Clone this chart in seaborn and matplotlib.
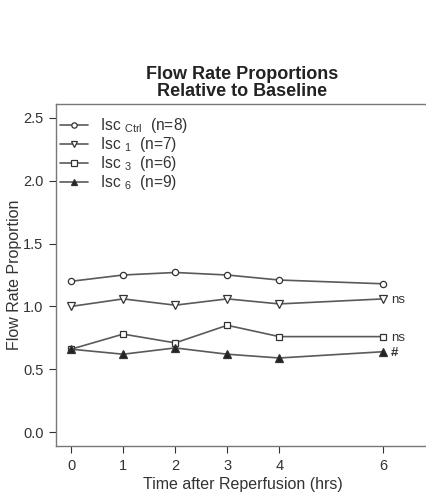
import matplotlib
matplotlib.use("Agg")
import matplotlib.pyplot as plt
import seaborn as sns
import pandas as pd
from matplotlib.lines import Line2D

sns.set_style("ticks")
plt.rcParams['font.family'] = ['Liberation Sans', 'DejaVu Sans']
plt.rcParams['mathtext.fontset'] = 'custom'
plt.rcParams['mathtext.rm'] = 'Liberation Sans'

hours = [0, 1, 2, 3, 4, 6]
isc_ctrl = [1.20, 1.25, 1.27, 1.25, 1.21, 1.18]
isc_1 = [1.00, 1.06, 1.01, 1.06, 1.02, 1.06]
isc_3 = [0.66, 0.78, 0.71, 0.85, 0.76, 0.76]
isc_6 = [0.66, 0.62, 0.67, 0.62, 0.59, 0.64]
series_names = ["Ctrl", "1", "3", "6"]
series_n = [8, 7, 6, 9]
end_labels = ["", "ns", "ns", "#"]
xticks = [0, 1, 2, 3, 4, 6]
yticks = [0.0, 0.5, 1.0, 1.5, 2.0, 2.5]

values = [isc_ctrl, isc_1, isc_3, isc_6]
rows = []
for name, vals in zip(series_names, values):
    for h, v in zip(hours, vals):
        rows.append({"hours": h, "value": v, "series": name})
df = pd.DataFrame(rows)

markers = {"Ctrl": "o", "1": "v", "3": "s", "6": "^"}
facecolors = {"Ctrl": "white", "1": "white", "3": "white", "6": "#222222"}
sizes = {"Ctrl": 4.5, "1": 5.8, "3": 4.5, "6": 5.2}
line_color = "#5a5a5a"

fig = plt.figure(figsize=(4.26, 4.97), dpi=100)
ax = fig.add_axes([56/426, 1 - 446/497, 1 - 56/426 + 0.01, (446 - 104)/497])

for name in series_names:
    sub = df[df.series == name]
    sns.lineplot(data=sub, x="hours", y="value", ax=ax, color=line_color,
                 linewidth=1.2, marker=markers[name], markersize=sizes[name],
                 markerfacecolor=facecolors[name], markeredgecolor="#333333",
                 markeredgewidth=0.9, legend=False)

for name, vals, lab in zip(series_names, values, end_labels):
    if lab:
        ax.text(hours[-1] + 0.14, vals[-1] - 0.01, lab, fontsize=9.5, color="#333333",
                va="center", ha="left", fontweight="bold" if lab == "#" else "normal")

ax.set_xlim(-0.29, 6.9)
ax.set_ylim(-0.11, 2.61)
ax.set_xticks(xticks)
ax.set_yticks(yticks)
ax.set_yticklabels([f"{t:.1f}" for t in yticks])
ax.tick_params(labelsize=10.5, colors="#333333", length=5, width=0.8, pad=4)
for s in ["left", "bottom", "top"]:
    ax.spines[s].set_color("#777777")
    ax.spines[s].set_linewidth(1.0)
ax.spines["right"].set_visible(False)

ax.set_xlabel("Time after Reperfusion (hrs)", fontsize=11.5, color="#333333", labelpad=3)
ax.set_ylabel("Flow Rate Proportion", fontsize=11.5, color="#333333", labelpad=1)

fig.text(242/426, 1 - 83/497, "Flow Rate Proportions\nRelative to Baseline",
         ha="center", va="center", fontsize=13, fontweight="bold",
         color="#222222", linespacing=1.05)

handles = []
labels = []
for name, n in zip(series_names, series_n):
    handles.append(Line2D([0], [0], color=line_color, linewidth=1.2,
                          marker=markers[name], markersize=sizes[name] * 0.85,
                          markerfacecolor=facecolors[name], markeredgecolor="#333333",
                          markeredgewidth=0.9))
    labels.append(r"Isc $_{\mathregular{" + name + r"}}$  (n=" + str(n) + ")")
leg = ax.legend(handles, labels, loc="upper left", frameon=False, fontsize=11.2,
                handlelength=1.78, handletextpad=0.8, labelspacing=0.0,
                borderpad=0.1, borderaxespad=0.15, bbox_to_anchor=(0.0, 0.975))
for t in leg.get_texts():
    t.set_color("#333333")

fig.savefig("out.png", dpi=100)
